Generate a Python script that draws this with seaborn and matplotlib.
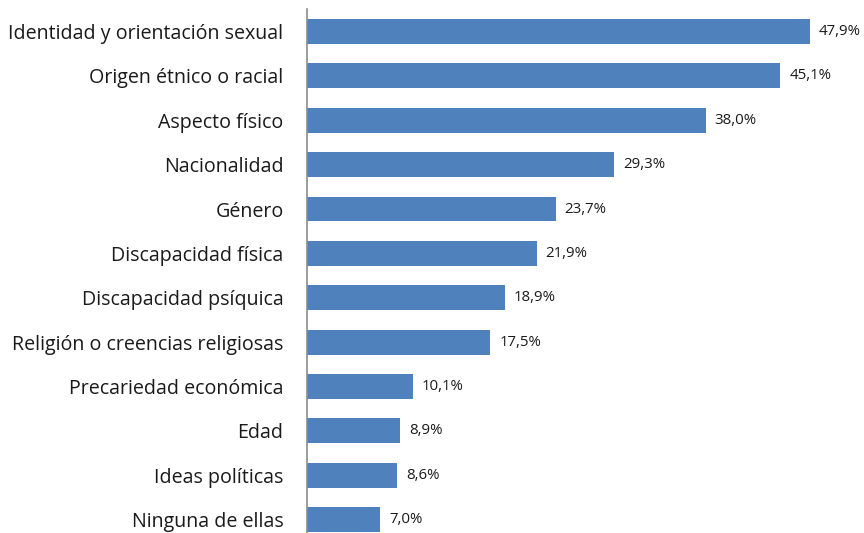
import matplotlib
matplotlib.use("Agg")
import matplotlib.pyplot as plt
import seaborn as sns
import pandas as pd

categories = ["Identidad y orientación sexual", "Origen étnico o racial", "Aspecto físico",
              "Nacionalidad", "Género", "Discapacidad física", "Discapacidad psíquica",
              "Religión o creencias religiosas", "Precariedad económica", "Edad",
              "Ideas políticas", "Ninguna de ellas"]
values = [47.9, 45.1, 38.0, 29.3, 23.7, 21.9, 18.9, 17.5, 10.1, 8.9, 8.6, 7.0]
value_labels = ["47,9%", "45,1%", "38,0%", "29,3%", "23,7%", "21,9%", "18,9%",
                "17,5%", "10,1%", "8,9%", "8,6%", "7,0%"]

df = pd.DataFrame({"cat": categories, "val": values})

sns.set_theme(style="white")
plt.rcParams['font.family'] = ['Open Sans', 'DejaVu Sans']

W, H = 864, 533
fig = plt.figure(figsize=(W / 100, H / 100), dpi=100)
left_px, right_px = 306.5, 853
top_px, bottom_px = 9.3, 533
ax = fig.add_axes([left_px / W, 0, (right_px - left_px) / W, (bottom_px - top_px) / H])

sns.barplot(data=df, x="val", y="cat", color="#4F81BD", saturation=1, width=0.56, ax=ax,
            orient="h", linewidth=0)

ax.set_xlim(0, 52)
ax.set_ylim(11.3, -0.5)
for sp in ["top", "right", "bottom"]:
    ax.spines[sp].set_visible(False)
ax.spines["left"].set_color("#8C8C8C")
ax.spines["left"].set_linewidth(1.2)
ax.set_xticks([])
ax.set_xlabel("")
ax.set_ylabel("")
ax.tick_params(axis="y", length=0, pad=16.5, labelsize=14.1, labelcolor="#1a1a1a")

for i, (v, lab) in enumerate(zip(values, value_labels)):
    ax.text(v + 0.85, i, lab, va="center", ha="left", fontsize=10.8, color="#1a1a1a", clip_on=False)

fig.savefig("out.png", dpi=100)
